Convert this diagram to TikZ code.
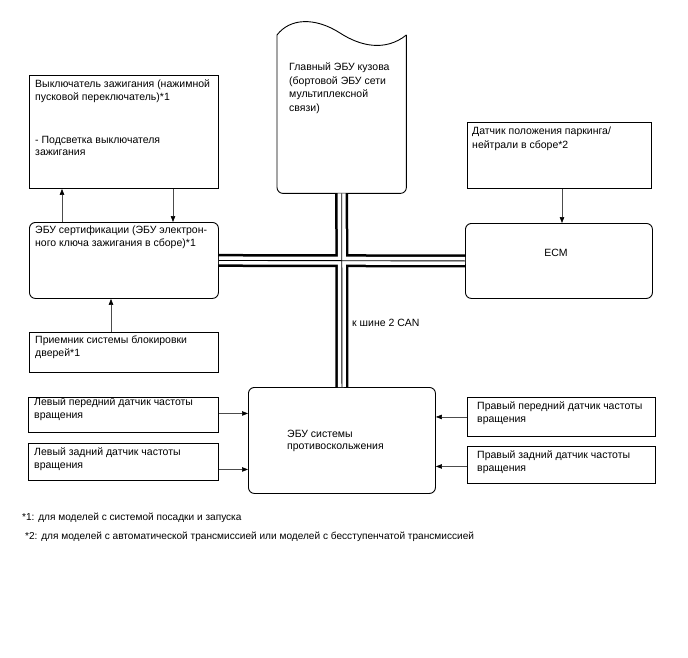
\documentclass[tikz,border=0pt]{standalone}
\usepackage{fontspec}
\setmainfont{Liberation Sans}
\usetikzlibrary{arrows.meta,calc}
\begin{document}
\begin{tikzpicture}[x=1pt,y=-1pt,
  box/.style={draw=black,line width=0.9pt,rectangle,inner sep=0,anchor=north west},
  rbox/.style={box,rounded corners=6pt},
  txt/.style={inner sep=0,anchor=north west,align=left,font=\fontsize{10.5}{12.3}\selectfont},
  txtb/.style={txt,font=\fontsize{10.5}{13.4}\selectfont},
  note/.style={inner sep=0,anchor=north west,font=\fontsize{10.1}{12}\selectfont},
  arr/.style={draw=black!70,line width=0.6pt,-{Triangle[length=6pt,width=4.5pt,color=black]}},
]
\fill[white] (0,0) rectangle (688,658);
\useasboundingbox (0,0) rectangle (688,658);

% boxes
\node[box,minimum width=189pt,minimum height=113pt] (sw) at (29,75) {};
\node[rbox,minimum width=189pt,minimum height=76pt] (cert) at (29,222) {};
\node[box,minimum width=189pt,minimum height=40pt] (rcv) at (29,332) {};
\node[inner sep=0,minimum width=129pt,minimum height=158pt,anchor=north west] (mecu) at (277,35) {};
\node[box,minimum width=184pt,minimum height=66pt] (pnp) at (467,122) {};
\node[rbox,minimum width=187pt,minimum height=75pt] (ecm) at (465,223) {};
\node[rbox,minimum width=187pt,minimum height=106pt] (abs) at (248,387) {};
\node[box,minimum width=190pt,minimum height=35pt] (lf) at (28,397) {};
\node[box,minimum width=190pt,minimum height=37pt] (lr) at (28,443) {};
\node[box,minimum width=188pt,minimum height=39pt] (rf) at (467,397) {};
\node[box,minimum width=188pt,minimum height=37pt] (rr) at (467,446) {};

% main body ECU shape
\draw[line width=0.9pt] (mecu.north west) .. controls (290,18) and (315,17) .. (340,33) .. controls (360,46) and (385,52) .. (mecu.north east);
\draw[line width=0.9pt,rounded corners=6pt] (mecu.north east) -- (mecu.south east) -- (mecu.south west) -- (mecu.north west);

% texts
\node[txt] (t1) at (35,80) {Выключатель зажигания (нажимной\\пусковой переключатель)*1};
\node[txt] (t2) at (35,136) {- Подсветка выключателя\\зажигания};
\node[txt] (t3) at (35,226) {ЭБУ сертификации (ЭБУ электрон-\\ного ключа зажигания в сборе)*1};
\node[txt] (t4) at (35,336) {Приемник системы блокировки\\дверей*1};
\node[txtb] (t5) at (289,63) {Главный ЭБУ кузова\\(бортовой ЭБУ сети\\мультиплексной\\связи)};
\node[txtb] (t6) at (472,127) {Датчик положения паркинга/\\нейтрали в сборе*2};
\node[inner sep=0,font=\fontsize{10.5}{12}\selectfont] (t7) at (556,253) {ECM};
\node[txt] (t8) at (34,398) {Левый передний датчик частоты\\вращения};
\node[txt] (t9) at (34,448) {Левый задний датчик частоты\\вращения};
\node[txt] (t10) at (477,402) {Правый передний датчик частоты\\вращения};
\node[txt] (t11) at (477,451) {Правый задний датчик частоты\\вращения};
\node[txt] (t12) at (287,430) {ЭБУ системы\\противоскольжения};
\node[txt] (t13) at (352,319) {к шине 2 CAN};
\node[note] (n1) at (22,513) {*1: для моделей с системой посадки и запуска};
\node[note] (n2) at (25,532) {*2: для моделей с автоматической трансмиссией или моделей с бесступенчатой трансмиссией};

% bus
\foreach \w/\c in {13pt/black,8pt/white,0.9pt/black} {
  \draw[line width=\w,\c] (cert.east) -- (ecm.west);
  \draw[line width=\w,\c] (mecu.south) -- (abs.north);
}

% arrows
\draw[arr] (cert.north -| 62,0) -- (sw.south -| 62,0);
\draw[arr] (sw.south -| 173,0) -- (cert.north -| 173,0);
\draw[arr] (rcv.north -| 111,0) -- (cert.south -| 111,0);
\draw[arr] (pnp.south -| 562,0) -- (ecm.north -| 562,0);
\draw[arr] ([yshift=1.5pt]lf.east) -- ([yshift=1.5pt]lf.east -| abs.west);
\draw[arr] ([yshift=-7.5pt]lr.east) -- ([yshift=-7.5pt]lr.east -| abs.west);
\draw[arr] (rf.west) -- (rf.west -| abs.east);
\draw[arr] ([yshift=-1.5pt]rr.west) -- ([yshift=-1.5pt]rr.west -| abs.east);
\end{tikzpicture}
\end{document}
